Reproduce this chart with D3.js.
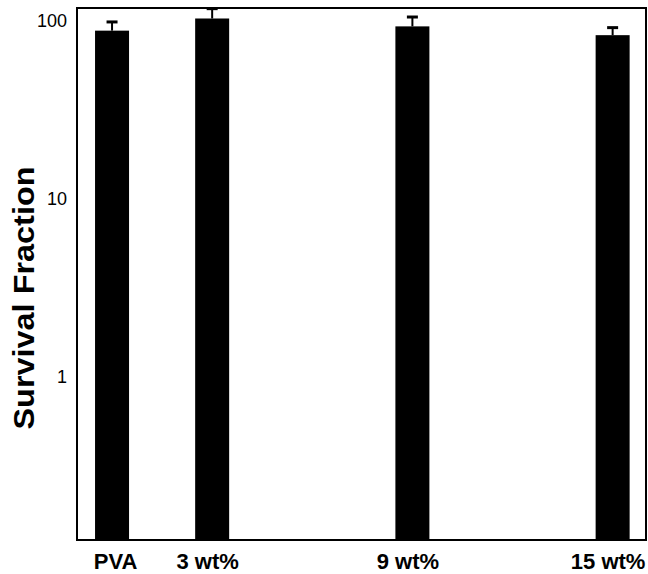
<!DOCTYPE html>
<html>
<head>
<meta charset="utf-8">
<script src="https://cdn.jsdelivr.net/npm/d3@7"></script>
<style>
  html, body { margin: 0; padding: 0; background: #fff; }
  svg { display: block; font-family: "Liberation Sans", Arial, sans-serif; }
</style>
</head>
<body>
<svg id="chart" width="648" height="574"></svg>
<script>
// Data
const categories = ["PVA", "3 wt%", "9 wt%", "15 wt%"];
const concentrations = [0, 3, 9, 15];
const survival = [88, 103, 93, 83];
const errors = [10.5, 14, 12, 8.5];
const yTickValues = [1, 10, 100];
const yTickLabels = ["1", "10", "100"];

const svg = d3.select("#chart");
const frame = { left: 77, right: 646, top: 8, bottom: 540 };

const x = d3.scaleLinear().domain([-1.05, 16.0]).range([frame.left, frame.right]);
const y = d3.scaleLog().domain([0.12, 118]).range([frame.bottom, frame.top]);
const barW = 34;

// bars
svg.append("g").selectAll("rect")
  .data(concentrations)
  .join("rect")
  .attr("x", (d) => x(d) - barW / 2)
  .attr("width", barW)
  .attr("y", (d, i) => y(survival[i]))
  .attr("height", (d, i) => frame.bottom - y(survival[i]))
  .attr("fill", "#000");

// error bars
const eg = svg.append("g").attr("stroke", "#000").attr("stroke-width", 2);
concentrations.forEach((c, i) => {
  const top = y(survival[i] + errors[i]);
  eg.append("line").attr("x1", x(c)).attr("x2", x(c)).attr("y1", y(survival[i])).attr("y2", top);
  eg.append("line").attr("x1", x(c) - 5.5).attr("x2", x(c) + 5.5).attr("y1", top).attr("y2", top).attr("stroke-width", 3);
});

// frame
svg.append("rect")
  .attr("x", frame.left).attr("y", frame.top)
  .attr("width", frame.right - frame.left).attr("height", frame.bottom - frame.top)
  .attr("fill", "none").attr("stroke", "#000").attr("stroke-width", 2);

// y axis labels (no tick marks)
const yAxis = d3.axisLeft(y).tickValues(yTickValues)
  .tickFormat((d, i) => yTickLabels[i]).tickSize(0).tickPadding(0);
const ya = svg.append("g").attr("transform", `translate(${frame.left - 10},0)`).call(yAxis);
ya.select(".domain").remove();
ya.selectAll("text").attr("font-size", 18).attr("fill", "#000")
  .attr("font-family", "Liberation Sans, Arial, sans-serif");

// x labels
const xAxis = d3.axisBottom(x).tickValues(concentrations)
  .tickFormat((d, i) => categories[i]).tickSize(0).tickPadding(0);
const xa = svg.append("g").attr("transform", `translate(0,${frame.bottom + 13})`).call(xAxis);
xa.select(".domain").remove();
xa.selectAll("text").attr("font-size", 22).attr("font-weight", "bold").attr("fill", "#000")
  .attr("font-family", "Liberation Sans, Arial, sans-serif")
  .attr("dx", (d, i) => i === 0 ? 3 : -5);

// y title
svg.append("text")
  .attr("transform", "translate(34,298) rotate(-90)")
  .attr("text-anchor", "middle")
  .attr("font-size", 30).attr("font-weight", "bold")
  .attr("textLength", 263).attr("lengthAdjust", "spacingAndGlyphs")
  .text("Survival Fraction");
</script>
</body>
</html>
